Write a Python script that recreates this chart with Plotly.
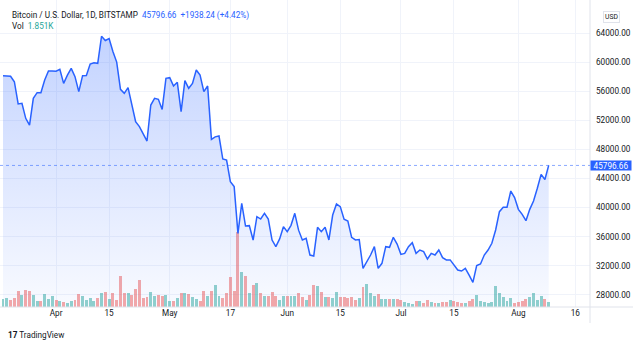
import pandas as pd
import plotly.graph_objects as go

START_DATE = "2021-03-18"
CLOSE = [
    58130, 58130, 58050, 57300, 54240, 54330, 52270, 51350, 55020, 55800,
    55780, 57540, 58780, 58790, 58740, 59000, 57080, 58200, 59140, 58000,
    55940, 58140, 58160, 59740, 59920, 59830, 63550, 62970, 63230, 61450,
    60000, 56260, 55700, 56490, 54100, 51810, 51125, 50200, 49150, 54100,
    55020, 54880, 53500, 57770, 57860, 56715, 57220, 53190, 57450, 56400,
    57080, 58910, 58230, 55940, 56710, 49380, 49720, 49840, 46680, 46540,
    43560, 42880, 36460, 40590, 37470, 37520, 35540, 38750, 38430, 39210,
    38430, 35540, 34630, 35690, 37380, 36700, 37560, 39210, 36900, 35550,
    35780, 33480, 33350, 37290, 36690, 37290, 35550, 38980, 40490, 40130,
    38390, 38160, 35910, 35550, 35600, 31650, 32570, 33480, 34630, 31650,
    32340, 34630, 34540, 35910, 34990, 33570, 33710, 34630, 35180, 33710,
    34170, 33940, 32930, 33710, 33480, 34170, 33120, 32800, 32810, 32110,
    31420, 31280, 31650, 30730, 29730, 32020, 32250, 33480, 34170, 35090,
    36920, 39440, 40040, 40050, 42280, 41370, 39760, 39070, 38200, 39760,
    40910, 42650, 44570, 43858.42, 45796.66,
]
VOLUME_K = [
    3.00, 3.33, 2.48, 3.33, 6.03, 4.55, 6.18, 5.92, 4.55, 2.33,
    2.11, 4.81, 3.07, 4.18, 2.70, 2.33, 1.74, 1.48, 2.33, 2.70,
    4.92, 4.18, 2.70, 3.33, 2.11, 3.33, 5.18, 5.55, 3.07, 5.18,
    2.70, 11.36, 5.18, 5.18, 4.33, 6.77, 10.10, 3.33, 3.70, 5.44,
    3.96, 4.33, 3.96, 4.33, 2.33, 2.11, 3.33, 5.18, 5.18, 4.81,
    3.70, 2.96, 2.33, 6.03, 3.96, 5.81, 8.03, 3.96, 3.33, 5.18,
    10.99, 5.81, 27.75, 12.84, 11.58, 5.18, 8.25, 8.88, 5.18, 3.96,
    3.96, 5.44, 3.96, 2.70, 3.96, 3.96, 3.96, 3.96, 5.18, 3.70,
    2.48, 4.55, 8.03, 7.66, 5.44, 3.59, 3.59, 3.22, 5.55, 3.70,
    3.70, 3.22, 3.70, 2.70, 3.44, 7.40, 8.51, 5.07, 4.18, 4.70,
    2.96, 2.96, 2.96, 2.96, 2.96, 2.70, 1.85, 1.37, 1.11, 2.11,
    2.22, 1.59, 2.70, 1.74, 1.37, 1.59, 1.74, 1.74, 2.59, 2.22,
    1.74, 1.48, 1.48, 2.22, 2.85, 4.44, 2.22, 1.85, 1.48, 1.85,
    7.77, 5.07, 3.81, 2.11, 3.22, 1.48, 1.85, 2.22, 2.85, 3.81,
    5.07, 2.59, 4.07, 3.07, 1.851,
]
TICK_DATES = ["2021-04-01", "2021-04-15", "2021-05-01", "2021-05-17", "2021-06-01",
              "2021-06-15", "2021-07-01", "2021-07-15", "2021-08-01", "2021-08-16"]
TICK_LABELS = ["Apr", "15", "May", "17", "Jun", "15", "Jul", "15", "Aug", "16"]
PRICE_TICKS = [28000, 32000, 36000, 40000, 44000, 48000, 52000, 56000, 60000, 64000]
TITLE = "Bitcoin / U.S. Dollar, 1D, BITSTAMP"
LAST_PRICE = 45796.66
CHANGE = "+1938.24 (+4.42%)"
LAST_VOL = "1.851K"

dates = pd.date_range(START_DATE, periods=len(CLOSE), freq="D")
BLUE = "#2962ff"
UP = "rgba(38,166,154,0.5)"
DOWN = "rgba(239,83,80,0.5)"
colors = [UP] + [UP if CLOSE[i] >= CLOSE[i - 1] else DOWN for i in range(1, len(CLOSE))]

W, H = 640, 347
ML, MR, MT, MB = 0, 50, 0, 40
PW, PH = W - ML - MR, H - MT - MB

y_lo, y_hi = 26336, 68536
d0 = pd.Timestamp(START_DATE)
x_lo = d0 - pd.Timedelta(hours=19)
x_hi = d0 + pd.Timedelta(days=154.9)
FS = 8.2

fig = go.Figure()
fig.add_trace(go.Bar(
    x=dates, y=VOLUME_K, marker=dict(color=colors, line=dict(width=0)),
    width=0.78 * 86400000, yaxis="y", hoverinfo="skip", showlegend=False,
))
fig.add_trace(go.Scatter(
    x=dates, y=CLOSE, mode="lines", line=dict(color=BLUE, width=1.5),
    fill="tozeroy",
    fillgradient=dict(type="vertical", start=y_lo, stop=max(CLOSE),
                      colorscale=[[0, "rgba(41,98,255,0.03)"], [1, "rgba(41,98,255,0.28)"]]),
    yaxis="y2", showlegend=False,
))

fig.update_layout(
    width=W, height=H, margin=dict(l=ML, r=MR, t=MT, b=MB),
    paper_bgcolor="white", plot_bgcolor="white",
    font=dict(family="Roboto", size=FS, color="#131722"),
    bargap=0,
    xaxis=dict(range=[x_lo, x_hi], tickvals=pd.to_datetime(TICK_DATES), ticktext=TICK_LABELS,
               showgrid=True, gridcolor="#f0f3fa", gridwidth=1, showline=False, zeroline=False,
               ticks="", tickfont=dict(size=FS, color="#131722")),
    yaxis=dict(range=[0, PH * 0.37], visible=False, showgrid=False, fixedrange=True),
    yaxis2=dict(range=[y_lo, y_hi], overlaying="y", side="right", tickvals=PRICE_TICKS,
                tickformat=".2f", showgrid=True, gridcolor="#f0f3fa", gridwidth=1,
                zeroline=False, showline=False, ticks="", ticklabelstandoff=5,
                tickfont=dict(size=FS, color="#131722")),
)

# axis frame lines
fig.add_shape(type="line", xref="paper", yref="paper", x0=1, x1=1, y0=-16 / PH, y1=1,
              line=dict(color="#e0e3eb", width=1))
fig.add_shape(type="line", xref="paper", yref="paper", x0=0, x1=633 / PW, y0=0, y1=0,
              line=dict(color="#e0e3eb", width=1))
# last price dotted line
fig.add_shape(type="line", xref="paper", yref="y2", x0=0, x1=1, y0=LAST_PRICE, y1=LAST_PRICE,
              line=dict(color="rgba(41,98,255,0.55)", width=1, dash="dot"))

# price tag
fig.add_annotation(xref="paper", yref="y2", x=1, y=LAST_PRICE, xanchor="left", yanchor="middle",
                   text=f"{LAST_PRICE:.2f}", showarrow=False, bgcolor=BLUE, width=40, height=9,
                   font=dict(color="white", size=FS), borderpad=0, xshift=0)
# USD box
fig.add_annotation(xref="paper", yref="paper", x=611 / PW, y=(PH - 16.5) / PH, xanchor="center",
                   yanchor="middle", text="USD", showarrow=False, bordercolor="#e0e3eb",
                   borderwidth=1, borderpad=1, font=dict(size=6.8, color="#131722"))
# header
fig.add_annotation(xref="paper", yref="paper", x=10 / PW, y=(PH - 15) / PH, xanchor="left",
                   yanchor="middle", showarrow=False, font=dict(size=FS, color="#131722"),
                   text=f"{TITLE}  <span style='color:{BLUE}'>{LAST_PRICE:.2f}  {CHANGE}</span>")
fig.add_annotation(xref="paper", yref="paper", x=10 / PW, y=(PH - 26) / PH, xanchor="left",
                   yanchor="middle", showarrow=False, font=dict(size=FS, color="#131722"),
                   text=f"Vol  <span style='color:#26a69a'>{LAST_VOL}</span>")
# logo
fig.add_annotation(xref="paper", yref="paper", x=6 / PW, y=(PH - 335) / PH, xanchor="left",
                   yanchor="middle", showarrow=False, font=dict(size=FS, color="#131722"),
                   text="<b>17</b> TradingView")

fig.write_html("out.html")
